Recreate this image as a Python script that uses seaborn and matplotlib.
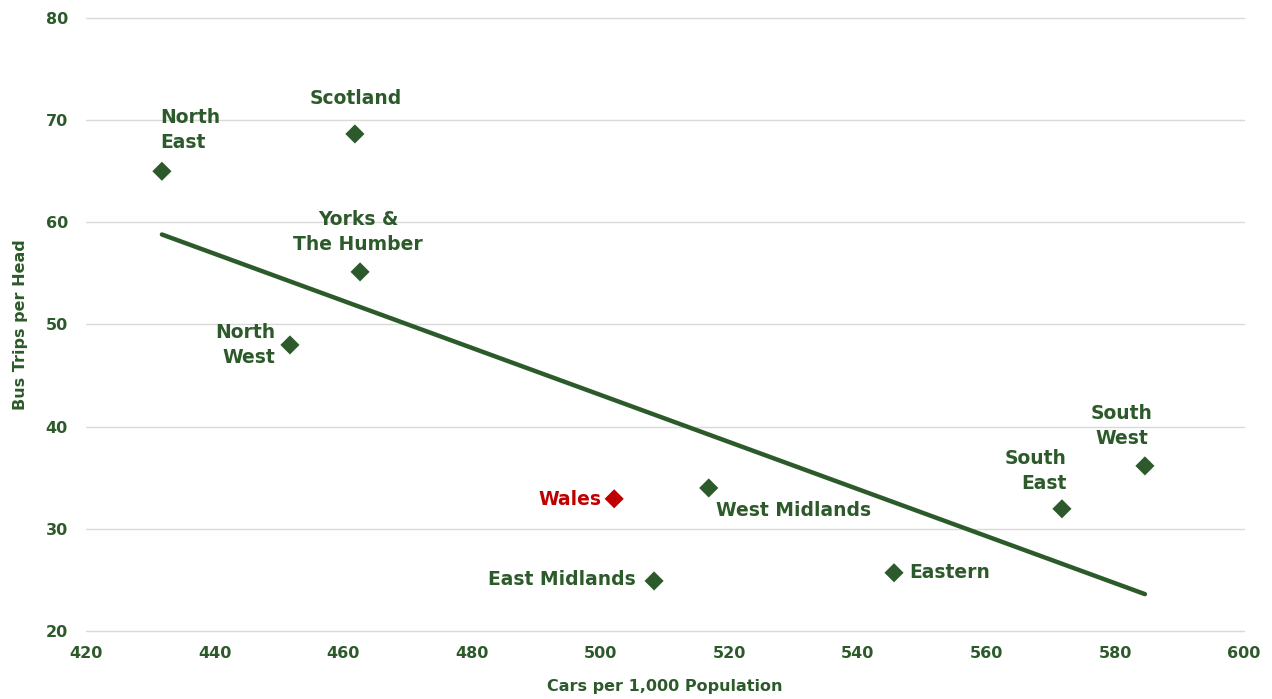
import matplotlib.pyplot as plt
import pandas as pd
import seaborn as sns

# data
regions = ['North East', 'Scotland', 'Yorks &\nThe Humber', 'North West', 'Wales',
           'West Midlands', 'East Midlands', 'Eastern', 'South East', 'South West']
cars = [431.8, 461.8, 462.6, 451.7, 502.1, 516.8, 508.3, 545.6, 571.7, 584.6]
trips = [65.0, 68.65, 55.15, 48.0, 32.94, 34.0, 24.9, 25.7, 31.96, 36.16]
is_wales = [r == 'Wales' for r in regions]

x_ticks = list(range(420, 601, 20))
y_ticks = list(range(20, 81, 10))

df = pd.DataFrame({'region': regions, 'cars': cars, 'trips': trips, 'wales': is_wales})

green = '#2d5a2b'
red = '#c00000'

sns.set_style('white')
plt.rcParams['font.family'] = ['DejaVu Sans']

fig = plt.figure(figsize=(12.72, 6.99), dpi=100)
ax = fig.add_axes([86 / 1272, 1 - 631 / 699, (1244 - 86) / 1272, (631 - 18) / 699])

# trend line (least squares over all regions)
sns.regplot(data=df, x='cars', y='trips', scatter=False, ci=None, truncate=True,
            color=green, line_kws={'linewidth': 3.2, 'solid_capstyle': 'round'}, ax=ax)

sns.scatterplot(data=df, x='cars', y='trips', hue='wales', palette={False: green, True: red},
                marker='D', s=95, linewidth=0, legend=False, ax=ax, zorder=3)

# label placement: (dx, dy in pixels, ha, multialignment)
label_pos = {
    'North East': (-2, 41, 'left', 'left'),
    'Scotland': (1, 35, 'center', 'center'),
    'Yorks &\nThe Humber': (-2, 40, 'center', 'center'),
    'North West': (-15, 0, 'right', 'right'),
    'Wales': (-13, -1, 'right', 'right'),
    'West Midlands': (7, -23, 'left', 'left'),
    'East Midlands': (-18, 1, 'right', 'right'),
    'Eastern': (15, 0, 'left', 'left'),
    'South East': (5, 38, 'right', 'right'),
    'South West': (-23, 40, 'center', 'center'),
}
for r, xv, yv, w in zip(regions, cars, trips, is_wales):
    dx, dy, ha, ma = label_pos[r]
    txt = r.replace('North ', 'North\n').replace('South ', 'South\n')
    ax.annotate(txt, (xv, yv), xytext=(dx, dy), textcoords='offset pixels',
                ha=ha, va='center', multialignment=ma, fontsize=13.5, fontweight='bold',
                color=red if w else green, linespacing=1.4)

ax.set_xlim(420, 600)
ax.set_ylim(20, 80)
ax.set_xticks(x_ticks)
ax.set_yticks(y_ticks)
ax.grid(axis='y', color='#d9d9d9', linewidth=1)
ax.grid(axis='x', visible=False)
for gl in ax.get_ygridlines():
    gl.set_clip_on(False)
for s in ax.spines.values():
    s.set_visible(False)
ax.tick_params(axis='x', length=0, labelsize=11.5, labelcolor=green, pad=11)
ax.tick_params(axis='y', length=0, labelsize=11.5, labelcolor=green, pad=13)
for lab in ax.get_xticklabels() + ax.get_yticklabels():
    lab.set_fontweight('bold')

ax.set_xlabel('Cars per 1,000 Population', fontsize=11.5, fontweight='bold', color=green, labelpad=13)
ax.set_ylabel('Bus Trips per Head', fontsize=11.5, fontweight='bold', color=green, labelpad=13)

fig.savefig('out.png', dpi=100)
